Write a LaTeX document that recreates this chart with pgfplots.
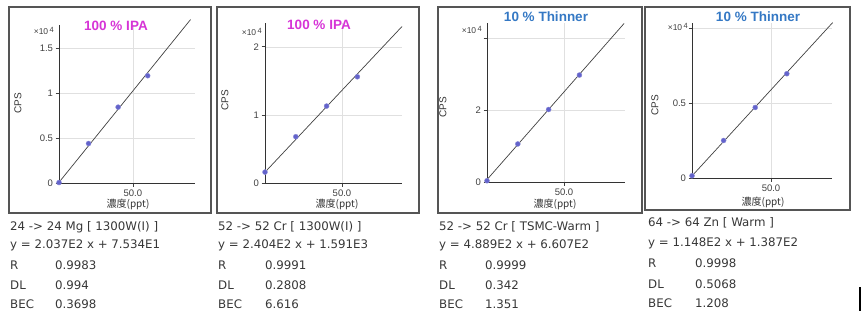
\documentclass[border=0pt]{standalone}
\usepackage{pgfplots}
\pgfplotsset{compat=1.18}
\usepackage{fontspec}
\setmainfont{Liberation Sans}
\newfontfamily\verd{DejaVu Sans}
\newfontfamily\ari{Liberation Sans}
\newfontfamily\cjk{Noto Sans CJK JP}
\definecolor{framecol}{RGB}{85,85,85}
\definecolor{ipacol}{RGB}{214,52,214}
\definecolor{thincol}{RGB}{52,120,196}
\definecolor{markcol}{RGB}{60,60,190}
\definecolor{txtcol}{RGB}{55,55,55}
\pgfplotsset{panel/.style={
  scale only axis, anchor=south west,
  axis x line=bottom, axis y line=left,
  axis line style={-, draw=black!80, line width=1pt},
  xmin=0, ymin=0,
  xtick={50}, xticklabels={50.0},
  grid=major, grid style={black!12, line width=0.5pt},
  tick align=outside, major tick length=3.5pt,
  tick style={black!75, line width=0.7pt},
  ticklabel style={font=\ari\fontsize{9.5}{9.5}\selectfont, text=black!75},
  xticklabel style={yshift=0pt},
  yticklabel style={xshift=1pt},
  scaled y ticks=false, clip=false,
  /pgf/number format/assume math mode=true}}
\pgfplotsset{fitline/.style={black!75, line width=0.7pt},
  pts/.style={only marks, mark=*, mark size=2.5pt, color=markcol, mark options={fill=markcol!80, draw=markcol!60}}}
\newcommand{\tenfour}{{\ari\fontsize{8.5}{8.5}\selectfont ×10\,\raisebox{2.5pt}{\fontsize{7.5}{7.5}\selectfont 4}}}
\begin{document}
\begin{tikzpicture}
\begin{scope}[x=1pt,y=-1pt]
\path[use as bounding box] (0,0) rectangle (862,319);
% frames
\draw[framecol, line width=1.4pt] (9,7) rectangle (211,213);
\draw[framecol, line width=1.4pt] (217,7) rectangle (419,213);
\draw[framecol, line width=1.4pt] (438,7) rectangle (642,213);
\draw[framecol, line width=1.4pt] (645,7) rectangle (850,210);
\end{scope}

% Panel 1
\begin{axis}[panel, at={(59pt,-183pt)}, width=136pt, height=158pt, xmax=92, ymax=17600,
  ytick={0,5000,10000,15000}, yticklabels={0,0.5,1,1.5}]
\addplot[fitline] coordinates {(0,75.34) (89,18205)};
\addplot[pts] coordinates {(0,50) (20,4400) (40,8450) (60,11950)};
\end{axis}
% Panel 2
\begin{axis}[panel, at={(265pt,-183pt)}, width=137pt, height=160pt, xmax=89, ymax=23500,
  ytick={0,10000,20000}, yticklabels={0,1,2}]
\addplot[fitline] coordinates {(0,1591) (89,22987)};
\addplot[pts] coordinates {(0,1600) (20,6800) (40,11300) (60,15600)};
\end{axis}
% Panel 3
\begin{axis}[panel, at={(487pt,-182pt)}, width=138pt, height=159pt, xmax=89.6, ymax=44300,
  ytick={0,20000,40000}, yticklabels={0,2,{}}]
\addplot[fitline] coordinates {(0,660.7) (89,44173)};
\addplot[pts] coordinates {(0,350) (20,10600) (40,20200) (60,29800)};
\end{axis}
% Panel 4
\begin{axis}[panel, at={(692pt,-178pt)}, width=140pt, height=155pt, xmax=88.6, ymax=10330,
  ytick={0,5000,10000}, yticklabels={0,0.5,{}}]
\addplot[fitline] coordinates {(0,138.7) (89,10356)};
\addplot[pts] coordinates {(0,150) (20,2500) (40,4700) (60,6950)};
\end{axis}

\begin{scope}[x=1pt,y=-1pt]
% titles
\node[font=\ari\bfseries\fontsize{13.5}{13.5}\selectfont, text=ipacol] at (116,26) {100 \% IPA};
\node[font=\ari\bfseries\fontsize{13.5}{13.5}\selectfont, text=ipacol] at (319,25) {100 \% IPA};
\node[font=\ari\bfseries\fontsize{13.5}{13.5}\selectfont, text=thincol] at (546,17) {10 \% Thinner};
\node[font=\ari\bfseries\fontsize{13.5}{13.5}\selectfont, text=thincol] at (758,17) {10 \% Thinner};
% CPS labels
\foreach \cx/\cy in {18/103, 225/100, 443/107, 655/105}
  \node[rotate=90, font=\ari\fontsize{10}{10}\selectfont, text=black!80] at (\cx,\cy) {CPS};
% x10^4
\node[anchor=east, text=black!75, inner sep=0pt] at (54,31) {\tenfour};
\node[anchor=east, text=black!75, inner sep=0pt] at (262,32) {\tenfour};
\node[anchor=east, text=black!75, inner sep=0pt] at (482,30) {\tenfour};
\node[anchor=east, text=black!75, inner sep=0pt] at (688,27) {\tenfour};
% x labels
\node[font=\cjk\fontsize{10}{10}\selectfont, text=black!80] at (128,204) {濃度(ppt)};
\node[font=\cjk\fontsize{10}{10}\selectfont, text=black!80] at (337,204) {濃度(ppt)};
\node[font=\cjk\fontsize{10}{10}\selectfont, text=black!80] at (555,204) {濃度(ppt)};
\node[font=\cjk\fontsize{10}{10}\selectfont, text=black!80] at (763,202) {濃度(ppt)};

% text blocks
\begin{scope}[every node/.style={anchor=west, font=\verd\fontsize{11.8}{11.8}\selectfont, text=txtcol, inner sep=0pt}]
\node at (10,227) {24 -> 24 Mg [ 1300W(I) ]};
\node at (10,245) {y = 2.037E2 x + 7.534E1};
\node at (10,265) {R}; \node at (55,265) {0.9983};
\node at (10,285) {DL}; \node at (55,285) {0.994};
\node at (10,304) {BEC}; \node at (55,304) {0.3698};

\node at (218,227) {52 -> 52 Cr [ 1300W(I) ]};
\node at (218,245) {y = 2.404E2 x + 1.591E3};
\node at (218,265) {R}; \node at (265,265) {0.9991};
\node at (218,285) {DL}; \node at (265,285) {0.2808};
\node at (218,304) {BEC}; \node at (265,304) {6.616};

\node at (439,227) {52 -> 52 Cr [ TSMC-Warm ]};
\node at (439,245) {y = 4.889E2 x + 6.607E2};
\node at (439,265) {R}; \node at (485,265) {0.9999};
\node at (439,285) {DL}; \node at (485,285) {0.342};
\node at (439,304) {BEC}; \node at (485,304) {1.351};

\node at (648,223) {64 -> 64 Zn [ Warm ]};
\node at (648,243) {y = 1.148E2 x + 1.387E2};
\node at (648,263) {R}; \node at (695,263) {0.9998};
\node at (648,284) {DL}; \node at (695,284) {0.5068};
\node at (648,303) {BEC}; \node at (695,303) {1.208};
\end{scope}
\draw[black, line width=1.5pt] (860,287) -- (860,311);
\end{scope}
\end{tikzpicture}
\end{document}
